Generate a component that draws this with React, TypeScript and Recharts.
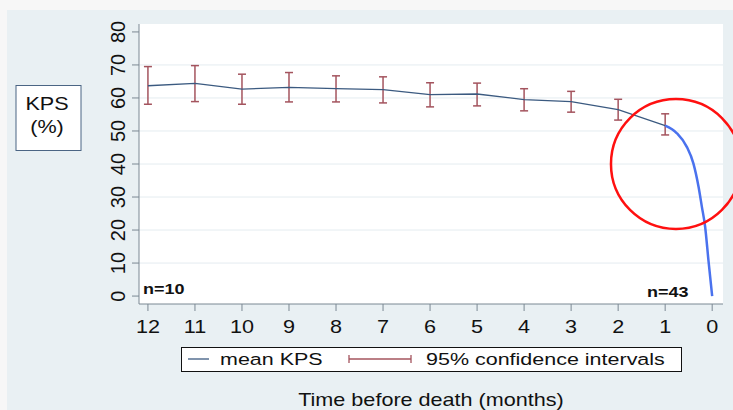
import React from 'react';
import {
  LineChart,
  Line,
  XAxis,
  YAxis,
  CartesianGrid,
  ErrorBar,
  ReferenceDot,
  Legend,
  Customized,
} from 'recharts';

// monthly means with 95% CI
const months = [12, 11, 10, 9, 8, 7, 6, 5, 4, 3, 2, 1];
const meanKps = [63.7, 64.4, 62.7, 63.2, 62.8, 62.5, 61.0, 61.2, 59.5, 58.9, 56.5, 51.6];
const ciUpper = [69.5, 69.8, 67.2, 67.7, 66.7, 66.4, 64.6, 64.5, 62.8, 62.0, 59.6, 55.2];
const ciLower = [58.1, 58.9, 58.1, 58.8, 58.8, 58.5, 57.3, 57.6, 56.1, 55.7, 53.3, 48.8];

// final drop drawn in bright blue (last month -> death)
const dropMonths = [1, 0.75, 0.54, 0.4, 0.29, 0.22, 0.15, 0.08, 0];
const dropKps = [51.6, 49.3, 45.2, 40.2, 33.1, 27.1, 21.0, 10.9, 0];

const xTicks = [0, 1, 2, 3, 4, 5, 6, 7, 8, 9, 10, 11, 12];
const yTicks = [0, 10, 20, 30, 40, 50, 60, 70, 80];
const gridValues = [10, 20, 30, 40, 50, 60, 70];

const FONT = '"Liberation Sans", Arial, sans-serif';
const MEAN_COLOR = '#3b5a80';
const DROP_COLOR = '#4a72ee';
const CI_COLOR = '#a4545e';

const meanData = months.map((m, i) => ({
  month: m,
  kps: meanKps[i],
  ci: [meanKps[i] - ciLower[i], ciUpper[i] - meanKps[i]],
}));

const dropData = dropMonths.map((m, i) => ({ month: m, kps: dropKps[i] }));

// the slide is stretched sideways a bit, so horizontal text gets scaleX
const WideText = ({ x, y, size = 18, sx = 1.2, bold = false, anchor = 'start', children }: any) => (
  <text
    transform={`translate(${x},${y}) scale(${sx},1)`}
    textAnchor={anchor}
    fontFamily={FONT}
    fontSize={size}
    fontWeight={bold ? 'bold' : 'normal'}
    fill="#111"
  >
    {children}
  </text>
);

const XTick = ({ x, payload }: any) => (
  <WideText x={x} y={333} anchor="middle">
    {payload.value}
  </WideText>
);

const YTick = ({ y, payload }: any) => (
  <text
    transform={`translate(125,${y}) rotate(-90)`}
    textAnchor="middle"
    fontFamily={FONT}
    fontSize={20}
    fill="#111"
  >
    {payload.value}
  </text>
);

const LegendBox = () => (
  <svg width={502} height={26} style={{ display: 'block' }}>
    <rect x={0.5} y={0.5} width={500} height={24} fill="#fff" stroke="#111" />
    <line x1={7} y1={12} x2={28} y2={12} stroke={MEAN_COLOR} strokeWidth={1.3} />
    <WideText x={39} y={18} size={17.2} sx={1.25}>mean KPS</WideText>
    <line x1={168} y1={12} x2={230} y2={12} stroke={CI_COLOR} strokeWidth={1.3} />
    <line x1={168} y1={8} x2={168} y2={16} stroke={CI_COLOR} strokeWidth={1.3} />
    <line x1={230} y1={8} x2={230} y2={16} stroke={CI_COLOR} strokeWidth={1.3} />
    <WideText x={245} y={18} size={17.2} sx={1.25}>95% confidence intervals</WideText>
  </svg>
);

const Annotations = () => (
  <g>
    <rect x={16} y={85.5} width={65} height={65} fill="#fff" stroke="#4b6584" />
    <WideText x={47} y={109.5} anchor="middle">KPS</WideText>
    <WideText x={47} y={133} anchor="middle">(%)</WideText>
    <WideText x={143} y={294} size={15} bold>n=10</WideText>
    <WideText x={647} y={297} size={15} bold>n=43</WideText>
    <WideText x={431} y={406} anchor="middle">Time before death (months)</WideText>
  </g>
);

export default function App() {
  return (
    <div style={{ position: 'absolute', left: 0, top: 0, width: 733, height: 410, background: '#f7f7f7' }}>
      <div style={{ position: 'absolute', left: 7, top: 10, right: 0, bottom: 0, background: '#e9f0f3' }} />
      <div style={{ position: 'absolute', left: 0, top: 0 }}>
        <LineChart width={733} height={410} margin={{ top: 24, right: 10, bottom: 76, left: 79 }}>
          <CartesianGrid fill="#fff" vertical={false} stroke="#e4ecf0" horizontalValues={gridValues} />
          <XAxis
            type="number"
            dataKey="month"
            domain={[-0.23, 12.19]}
            allowDataOverflow
            reversed
            ticks={xTicks}
            interval={0}
            height={30}
            tickSize={7}
            stroke="#7b8893"
            tick={<XTick />}
          />
          <YAxis
            type="number"
            domain={[-2.4, 82.4]}
            allowDataOverflow
            ticks={yTicks}
            interval={0}
            width={60}
            tickSize={7}
            stroke="#7b8893"
            tick={<YTick />}
          />
          <Legend
            layout="horizontal"
            verticalAlign="middle"
            align="center"
            content={<LegendBox />}
            wrapperStyle={{ position: 'absolute', left: 181, top: 347, width: 502, height: 26 }}
          />
          <Line
            data={meanData}
            dataKey="kps"
            type="linear"
            stroke={MEAN_COLOR}
            strokeWidth={1.3}
            dot={false}
            isAnimationActive={false}
          >
            <ErrorBar dataKey="ci" width={4} stroke={CI_COLOR} strokeWidth={1.5} isAnimationActive={false} />
          </Line>
          <Line
            data={dropData}
            dataKey="kps"
            type="monotone"
            stroke={DROP_COLOR}
            strokeWidth={2.5}
            dot={false}
            isAnimationActive={false}
          />
          <ReferenceDot
            x={0.77}
            y={40}
            r={65}
            fill="none"
            stroke="#ff1010"
            strokeWidth={2.5}
            ifOverflow="visible"
          />
          <Customized component={Annotations} />
        </LineChart>
      </div>
    </div>
  );
}
